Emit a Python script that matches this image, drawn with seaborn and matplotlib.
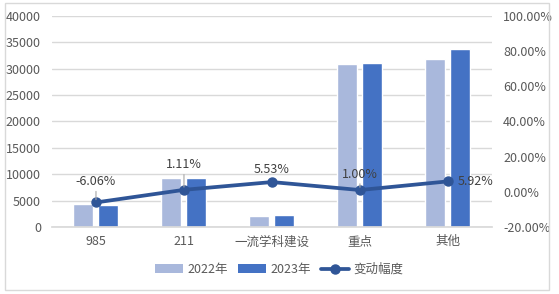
import matplotlib
matplotlib.use("Agg")
import matplotlib.pyplot as plt
import seaborn as sns
import pandas as pd
import numpy as np
from matplotlib.patches import Rectangle
from matplotlib.lines import Line2D
from matplotlib.patches import Patch

categories = ["985", "211", "一流学科建设", "重点", "其他"]
values_2022 = [4440, 9200, 2140, 30800, 31850]
values_2023 = [4171, 9302, 2258, 31108, 33736]
change = [-6.06, 1.11, 5.53, 1.00, 5.92]
change_labels = ["-6.06%", "1.11%", "5.53%", "1.00%", "5.92%"]
series = ["2022年", "2023年"]

sns.set_theme(style="white")
plt.rcParams['font.family'] = ['Noto Sans CJK SC', 'DejaVu Sans']

c22 = "#A9B8DC"
c23 = "#4472C4"
cline = "#2F5597"
tick_color = "#595959"

df = pd.DataFrame({
    "cat": categories * 2,
    "year": [series[0]] * 5 + [series[1]] * 5,
    "val": values_2022 + values_2023,
})

fig = plt.figure(figsize=(5.59, 2.94), dpi=100)
ax = fig.add_axes([0.093, 0.228, 0.787, 0.718])
fig.patches.append(Rectangle((0.009, 0.012), 0.973, 0.978, transform=fig.transFigure,
                             fill=False, edgecolor="#D9D9D9", linewidth=1))

sns.barplot(data=df, x="cat", y="val", hue="year", order=categories,
            palette=[c22, c23], width=0.568, gap=0.2, ax=ax, legend=False,
            saturation=1)
ax.set_xlim(-0.5, 4.5)
ax.set_ylim(0, 40000)
ax.set_yticks(np.arange(0, 40001, 5000))
ax.grid(axis="y", color="#D9D9D9", linewidth=1)
ax.set_axisbelow(True)
for s in ["top", "right", "left"]:
    ax.spines[s].set_visible(False)
ax.spines["bottom"].set_color("#D9D9D9")
ax.set_xlabel("")
ax.set_ylabel("")
ax.tick_params(axis="both", length=0, labelsize=9, colors=tick_color)
ax.tick_params(axis="x", pad=6)
ax.tick_params(axis="y", pad=8)

ax2 = ax.twinx()
x = np.arange(len(categories))
ax2.plot(x, change, color=cline, linewidth=2.7, marker="o", markersize=6.5, zorder=5)
ax2.set_ylim(-20, 100)
ax2.set_yticks(np.arange(-20, 101, 20))
ax2.set_yticklabels([f"{v:.2f}%" for v in np.arange(-20, 101, 20)])
for s in ["top", "right", "left", "bottom"]:
    ax2.spines[s].set_visible(False)
ax2.tick_params(axis="y", length=0, labelsize=9, colors=tick_color, pad=8)
ax2.grid(False)

# data labels with leader lines
offsets = [(0, 15), (0, 18), (0, 9.4), (0, 11.5), (20, 0)]
leaders = [True, True, False, True, False]
for xi, yi, lab, (dx, dy), ld in zip(x, change, change_labels, offsets, leaders):
    ax2.annotate(lab, xy=(xi, yi), xytext=(dx, dy), textcoords="offset points",
                 ha="center", va="center", fontsize=9, color="#404040",
                 arrowprops=dict(arrowstyle="-", color="#A6A6A6", lw=0.8,
                                 shrinkA=0, shrinkB=2) if ld else None,
                 zorder=6)

handles = [Patch(facecolor=c22, edgecolor="none"),
           Patch(facecolor=c23, edgecolor="none"),
           Line2D([0], [0], color=cline, linewidth=2.7, marker="o", markersize=6.5)]
fig.legend(handles, series + ["变动幅度"], loc="center", bbox_to_anchor=(0.5, 0.083),
           ncol=3, frameon=False, fontsize=9, handlelength=2.2, handleheight=0.7,
           columnspacing=0.8, handletextpad=0.4, labelcolor=tick_color)

fig.savefig("out.png", dpi=100)
